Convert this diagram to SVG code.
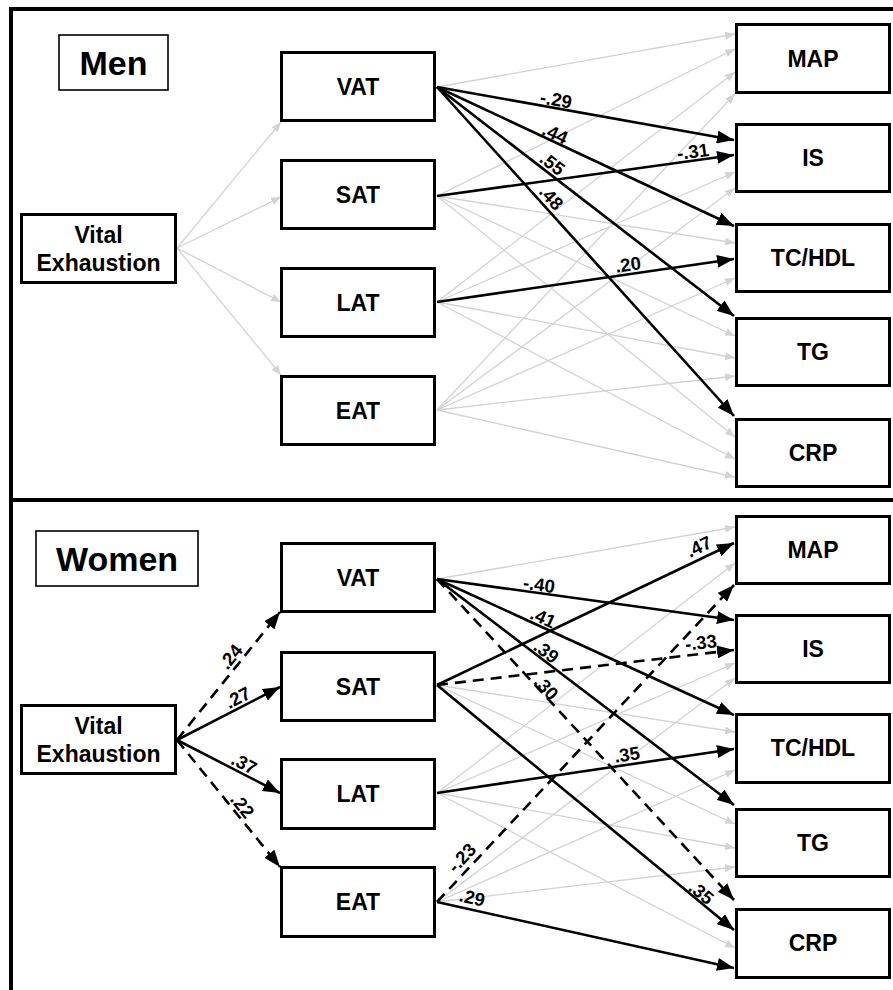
<svg xmlns="http://www.w3.org/2000/svg" width="893" height="990" viewBox="0 0 893 990">
<style>
.nd rect{fill:#fff;stroke:#000;stroke-width:3}
.tag rect{fill:#fff;stroke:#000;stroke-width:1.6}
text{font-family:"Liberation Sans",Arial,sans-serif;font-weight:bold;fill:#000;text-anchor:middle}
.nt{font-size:23px}
.big{font-size:34px}
.lb{font-size:18.5px}
.g{stroke:#d3d3d3;stroke-width:1.3;fill:none;marker-end:url(#ag)}
.b{stroke:#000;stroke-width:2.6;fill:none;marker-end:url(#ab)}
.d{stroke-dasharray:11 7}
.fr{stroke:#000;stroke-width:4;fill:none}
</style>
<defs>
<marker id="ab" markerUnits="userSpaceOnUse" viewBox="0 0 17 13" markerWidth="17" markerHeight="13" refX="17" refY="6.5" orient="auto"><path d="M0,0 L17,6.5 L0,13 z" fill="#000"/></marker>
<marker id="ag" markerUnits="userSpaceOnUse" viewBox="0 0 10 8" markerWidth="10" markerHeight="8" refX="10" refY="4" orient="auto"><path d="M0,0 L10,4 L0,8 z" fill="#d3d3d3"/></marker>
</defs>
<rect width="893" height="990" fill="#fff"/>
<g id="frame">
<line class="fr" x1="11" y1="8" x2="11" y2="990"/>
<line class="fr" x1="9" y1="9" x2="893" y2="9"/>
<line class="fr" x1="11" y1="500" x2="893" y2="500"/>
</g>
<g id="connectors">
<line class="g" x1="177" y1="248" x2="281" y2="122"/>
<line class="g" x1="177" y1="248" x2="281" y2="197"/>
<line class="g" x1="177" y1="248" x2="281" y2="302"/>
<line class="g" x1="177" y1="248" x2="281" y2="375"/>
<line class="g" x1="437" y1="87" x2="735" y2="34"/>
<line class="g" x1="437" y1="196" x2="735" y2="49"/>
<line class="g" x1="437" y1="302" x2="735" y2="72"/>
<line class="g" x1="437" y1="410" x2="735" y2="94"/>
<line class="g" x1="437" y1="302" x2="735" y2="172"/>
<line class="g" x1="437" y1="410" x2="735" y2="188"/>
<line class="g" x1="437" y1="196" x2="735" y2="243"/>
<line class="g" x1="437" y1="410" x2="735" y2="278"/>
<line class="g" x1="437" y1="196" x2="735" y2="336"/>
<line class="g" x1="437" y1="302" x2="735" y2="358"/>
<line class="g" x1="437" y1="410" x2="735" y2="376"/>
<line class="g" x1="437" y1="196" x2="735" y2="437"/>
<line class="g" x1="437" y1="302" x2="735" y2="459"/>
<line class="g" x1="437" y1="410" x2="735" y2="477"/>
<line class="b" x1="437" y1="87" x2="734" y2="140"/>
<line class="b" x1="437" y1="87" x2="734" y2="226"/>
<line class="b" x1="437" y1="87" x2="734" y2="316"/>
<line class="b" x1="437" y1="87" x2="734" y2="416"/>
<line class="b" x1="437" y1="196" x2="734" y2="155"/>
<line class="b" x1="437" y1="302" x2="734" y2="259"/>
<line class="g" x1="437" y1="579" x2="735" y2="527"/>
<line class="g" x1="437" y1="793" x2="735" y2="563"/>
<line class="g" x1="437" y1="793" x2="735" y2="663"/>
<line class="g" x1="437" y1="902" x2="735" y2="678"/>
<line class="g" x1="437" y1="685" x2="735" y2="732"/>
<line class="g" x1="437" y1="902" x2="735" y2="770"/>
<line class="g" x1="437" y1="685" x2="735" y2="824"/>
<line class="g" x1="437" y1="793" x2="735" y2="848"/>
<line class="g" x1="437" y1="902" x2="735" y2="867"/>
<line class="g" x1="437" y1="793" x2="735" y2="948"/>
<line class="b d" x1="177" y1="740" x2="280" y2="612"/>
<line class="b" x1="177" y1="740" x2="280" y2="687"/>
<line class="b" x1="177" y1="740" x2="280" y2="793"/>
<line class="b d" x1="177" y1="740" x2="280" y2="867"/>
<line class="b" x1="437" y1="579" x2="734" y2="620"/>
<line class="b" x1="437" y1="579" x2="734" y2="715"/>
<line class="b" x1="437" y1="579" x2="734" y2="805"/>
<line class="b d" x1="437" y1="579" x2="734" y2="900"/>
<line class="b" x1="437" y1="685" x2="734" y2="543"/>
<line class="b d" x1="437" y1="685" x2="734" y2="650"/>
<line class="b" x1="437" y1="685" x2="734" y2="930"/>
<line class="b" x1="437" y1="793" x2="734" y2="749"/>
<line class="b d" x1="437" y1="902" x2="734" y2="585"/>
<line class="b" x1="437" y1="902" x2="734" y2="968"/>
</g>
<g id="edge-labels">
<text class="lb" x="556" y="106" transform="rotate(10 556 100)">-.29</text>
<text class="lb" x="555" y="140" transform="rotate(25 555 134)">.44</text>
<text class="lb" x="552" y="170" transform="rotate(37.5 552 164)">.55</text>
<text class="lb" x="551" y="204" transform="rotate(47.8 551 198)">.48</text>
<text class="lb" x="693" y="158" transform="rotate(-7.8 693 152)">-.31</text>
<text class="lb" x="628" y="271" transform="rotate(-8.2 628 265)">.20</text>
<text class="lb" x="231" y="663" transform="rotate(-50.9 231 657)">.24</text>
<text class="lb" x="238" y="704" transform="rotate(-27 238 698)">.27</text>
<text class="lb" x="244" y="770" transform="rotate(27 244 764)">.37</text>
<text class="lb" x="242" y="812" transform="rotate(50.7 242 806)">.22</text>
<text class="lb" x="539" y="591" transform="rotate(7.8 539 585)">-.40</text>
<text class="lb" x="543" y="624" transform="rotate(24.5 543 618)">.41</text>
<text class="lb" x="546" y="658" transform="rotate(37.2 546 652)">.39</text>
<text class="lb" x="546" y="694" transform="rotate(47.1 546 688)">.30</text>
<text class="lb" x="699" y="553" transform="rotate(-25.5 699 547)">.47</text>
<text class="lb" x="701" y="649" transform="rotate(-6.7 701 643)">-.33</text>
<text class="lb" x="701" y="899" transform="rotate(39.4 701 893)">.35</text>
<text class="lb" x="627" y="761" transform="rotate(-8.4 627 755)">.35</text>
<text class="lb" x="462" y="864" transform="rotate(-46.8 462 858)">-.23</text>
<text class="lb" x="472" y="904" transform="rotate(12.5 472 898)">.29</text>
</g>
<g id="men-title" class="tag"><rect x="59" y="35" width="109" height="55"/><text class="big" x="113.5" y="75">Men</text></g>
<g id="women-title" class="tag"><rect x="36" y="531" width="162" height="55"/><text class="big" x="117" y="571">Women</text></g>
<g id="m-ve" class="nd"><rect x="21.5" y="214.5" width="154" height="68"/><text class="nt" x="98.5" y="243">Vital</text><text class="nt" x="98.5" y="271">Exhaustion</text></g>
<g id="m-vat" class="nd"><rect x="281.5" y="52.5" width="153" height="68"/><text class="nt" x="358" y="95">VAT</text></g>
<g id="m-sat" class="nd"><rect x="281.5" y="160.5" width="153" height="68"/><text class="nt" x="358" y="203">SAT</text></g>
<g id="m-lat" class="nd"><rect x="281.5" y="268.5" width="153" height="68"/><text class="nt" x="358" y="311">LAT</text></g>
<g id="m-eat" class="nd"><rect x="281.5" y="376.5" width="153" height="68"/><text class="nt" x="358" y="419">EAT</text></g>
<g id="m-map" class="nd"><rect x="736.5" y="24.5" width="153" height="68"/><text class="nt" x="813" y="67">MAP</text></g>
<g id="m-is" class="nd"><rect x="736.5" y="124.5" width="153" height="67"/><text class="nt" x="813" y="166">IS</text></g>
<g id="m-tc" class="nd"><rect x="736.5" y="224.5" width="153" height="67"/><text class="nt" x="813" y="266">TC/HDL</text></g>
<g id="m-tg" class="nd"><rect x="736.5" y="318.5" width="153" height="67"/><text class="nt" x="813" y="360">TG</text></g>
<g id="m-crp" class="nd"><rect x="736.5" y="419.5" width="153" height="67"/><text class="nt" x="813" y="461">CRP</text></g>
<g id="w-ve" class="nd"><rect x="21.5" y="705.5" width="154" height="68"/><text class="nt" x="98.5" y="734">Vital</text><text class="nt" x="98.5" y="762">Exhaustion</text></g>
<g id="w-vat" class="nd"><rect x="281.5" y="543.5" width="153" height="68"/><text class="nt" x="358" y="586">VAT</text></g>
<g id="w-sat" class="nd"><rect x="281.5" y="652.5" width="153" height="68"/><text class="nt" x="358" y="695">SAT</text></g>
<g id="w-lat" class="nd"><rect x="281.5" y="759.5" width="153" height="69"/><text class="nt" x="358" y="802">LAT</text></g>
<g id="w-eat" class="nd"><rect x="281.5" y="867.5" width="153" height="69"/><text class="nt" x="358" y="910">EAT</text></g>
<g id="w-map" class="nd"><rect x="736.5" y="516.5" width="153" height="67"/><text class="nt" x="813" y="558">MAP</text></g>
<g id="w-is" class="nd"><rect x="736.5" y="615.5" width="153" height="67"/><text class="nt" x="813" y="657">IS</text></g>
<g id="w-tc" class="nd"><rect x="736.5" y="714.5" width="153" height="68"/><text class="nt" x="813" y="756">TC/HDL</text></g>
<g id="w-tg" class="nd"><rect x="736.5" y="809.5" width="153" height="67"/><text class="nt" x="813" y="851">TG</text></g>
<g id="w-crp" class="nd"><rect x="736.5" y="909.5" width="153" height="68"/><text class="nt" x="813" y="951">CRP</text></g>
</svg>
